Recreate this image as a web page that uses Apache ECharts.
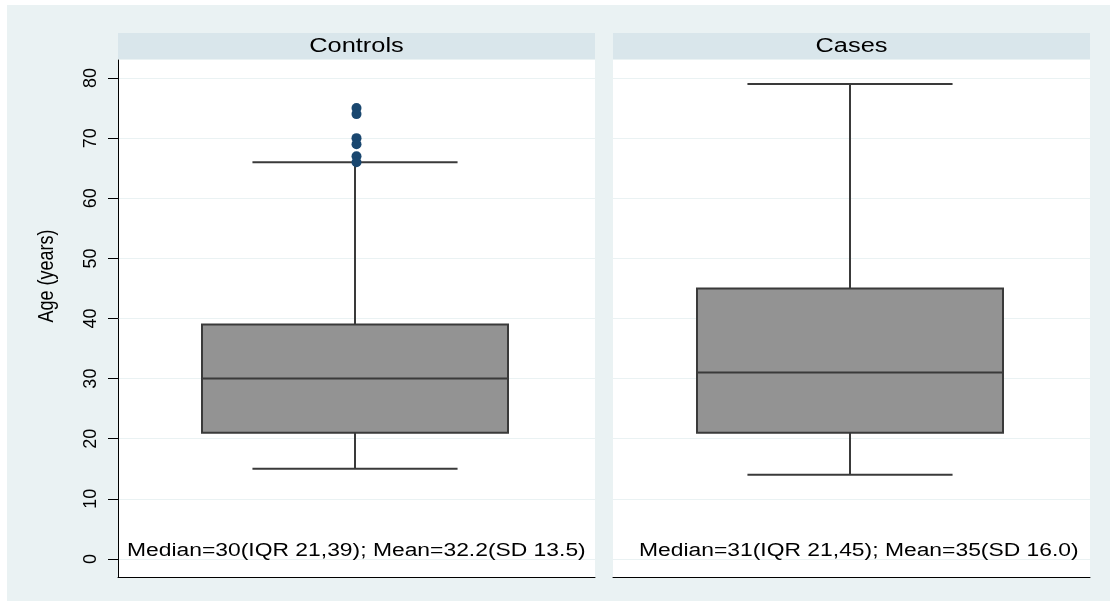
<!DOCTYPE html>
<html>
<head>
<meta charset="utf-8">
<script src="https://cdn.jsdelivr.net/npm/echarts@6/dist/echarts.min.js"></script>
<style>
html,body{margin:0;padding:0;background:#ffffff;}
#chart{width:1117px;height:607px;}
</style>
</head>
<body>
<div id="chart"></div>
<script>
// ---- data ----
const groups = ['Controls', 'Cases'];
// [lower whisker, Q1, median, Q3, upper whisker]
const controlsBox = [15, 21, 30, 39, 66];
const casesBox = [14, 21, 31, 45, 79];
const controlsOutliers = [75, 74, 70, 69, 67, 66];
const casesOutliers = [];
const yTicks = [0, 10, 20, 30, 40, 50, 60, 70, 80];
const summaries = [
  'Median=30(IQR 21,39); Mean=32.2(SD 13.5)',
  'Median=31(IQR 21,45); Mean=35(SD 16.0)'
];
const yTitle = 'Age (years)';

// ---- styling ----
const FONT = "'Liberation Sans', Arial, sans-serif";
const BG = '#eaf2f3';
const STRIP = '#d9e6eb';
const LINE = '#3a3a3a';
const BOXFILL = '#939393';
const DOT = '#1a476f';
const STRETCH = 1.27;

const chart = echarts.init(document.getElementById('chart'), null, {renderer: 'canvas'});

function renderBox(params, api) {
  const x = api.value(0);
  const lo = api.coord([x, api.value(1)]);
  const q1 = api.coord([x, api.value(2)]);
  const md = api.coord([x, api.value(3)]);
  const q3 = api.coord([x, api.value(4)]);
  const hi = api.coord([x, api.value(5)]);
  const band = api.size([1, 0])[0];
  const bw = band * 0.6415;
  const cw = band * 0.43;
  const cx = md[0] - 1.5;
  const ls = {stroke: LINE, lineWidth: 2, fill: null};
  return {
    type: 'group',
    children: [
      {type: 'line', shape: {x1: cx, y1: hi[1], x2: cx, y2: q3[1]}, style: ls},
      {type: 'line', shape: {x1: cx, y1: q1[1], x2: cx, y2: lo[1]}, style: ls},
      {type: 'line', shape: {x1: cx - cw / 2, y1: hi[1], x2: cx + cw / 2, y2: hi[1]}, style: ls},
      {type: 'line', shape: {x1: cx - cw / 2, y1: lo[1], x2: cx + cw / 2, y2: lo[1]}, style: ls},
      {type: 'rect', shape: {x: cx - bw / 2, y: q3[1], width: bw, height: q1[1] - q3[1]},
        style: {fill: BOXFILL, stroke: LINE, lineWidth: 2}},
      {type: 'line', shape: {x1: cx - bw / 2, y1: md[1], x2: cx + bw / 2, y2: md[1]}, style: ls}
    ]
  };
}

const gridDefs = [
  {left: 118, width: 477, top: 60, bottom: 30},
  {left: 613, width: 477, top: 60, bottom: 30}
];

function yAxisDef(i) {
  const first = i === 0;
  return {
    gridIndex: i,
    type: 'value',
    min: -3,
    max: 83,
    axisLine: {show: first, lineStyle: {color: '#000', width: 1}},
    axisTick: {show: first, length: 10, customValues: yTicks, lineStyle: {color: '#000', width: 1}},
    axisLabel: {show: first, customValues: yTicks, rotate: 90, margin: 18, fontSize: 18,
      color: '#000', fontFamily: FONT},
    splitLine: {show: true, lineStyle: {color: BG, width: 1}}
  };
}

function xAxisDef(i) {
  return {
    gridIndex: i,
    type: 'category',
    data: [groups[i]],
    axisLine: {show: true, onZero: false, lineStyle: {color: '#000', width: 1}},
    axisTick: {show: false},
    axisLabel: {show: false},
    splitLine: {show: false}
  };
}

function textStyle(txt, size, align) {
  return {text: txt, fill: '#000', fontSize: size, fontFamily: FONT,
    textAlign: align, textVerticalAlign: 'middle'};
}

const graphics = [
  {type: 'rect', z: -10, shape: {x: 7, y: 5, width: 1103, height: 596}, style: {fill: BG}, silent: true}
];
gridDefs.forEach(function (g, i) {
  graphics.push({type: 'rect', shape: {x: g.left, y: 33, width: g.width, height: 26}, style: {fill: STRIP}, silent: true});
  graphics.push({type: 'text', x: g.left + g.width / 2, y: 46, scaleX: STRETCH,
    style: textStyle(groups[i], 20, 'center')});
});
graphics.push({type: 'text', x: 127, y: 551, scaleX: STRETCH, z: 10, style: textStyle(summaries[0], 18, 'left')});
graphics.push({type: 'text', x: 639, y: 551, scaleX: STRETCH, z: 10, style: textStyle(summaries[1], 18, 'left')});
graphics.push({type: 'text', x: 47, y: 276, rotation: Math.PI / 2, scaleY: STRETCH,
  style: textStyle(yTitle, 18, 'center')});

const option = {
  backgroundColor: '#ffffff',
  animation: false,
  textStyle: {fontFamily: FONT},
  grid: gridDefs.map(function (g) {
    return Object.assign({show: true, backgroundColor: '#ffffff', borderWidth: 0}, g);
  }),
  xAxis: [xAxisDef(0), xAxisDef(1)],
  yAxis: [yAxisDef(0), yAxisDef(1)],
  graphic: graphics,
  series: [
    {type: 'custom', name: groups[0], xAxisIndex: 0, yAxisIndex: 0, renderItem: renderBox,
      data: [[0].concat(controlsBox)], z: 3},
    {type: 'custom', name: groups[1], xAxisIndex: 1, yAxisIndex: 1, renderItem: renderBox,
      data: [[0].concat(casesBox)], z: 3},
    {type: 'scatter', xAxisIndex: 0, yAxisIndex: 0, symbol: 'circle', symbolSize: 10,
      itemStyle: {color: DOT, opacity: 1}, z: 5,
      data: controlsOutliers.map(function (v) { return [0, v]; })},
    {type: 'scatter', xAxisIndex: 1, yAxisIndex: 1, symbol: 'circle', symbolSize: 10,
      itemStyle: {color: DOT, opacity: 1}, z: 5,
      data: casesOutliers.map(function (v) { return [0, v]; })}
  ]
};
chart.setOption(option);
</script>
</body>
</html>
